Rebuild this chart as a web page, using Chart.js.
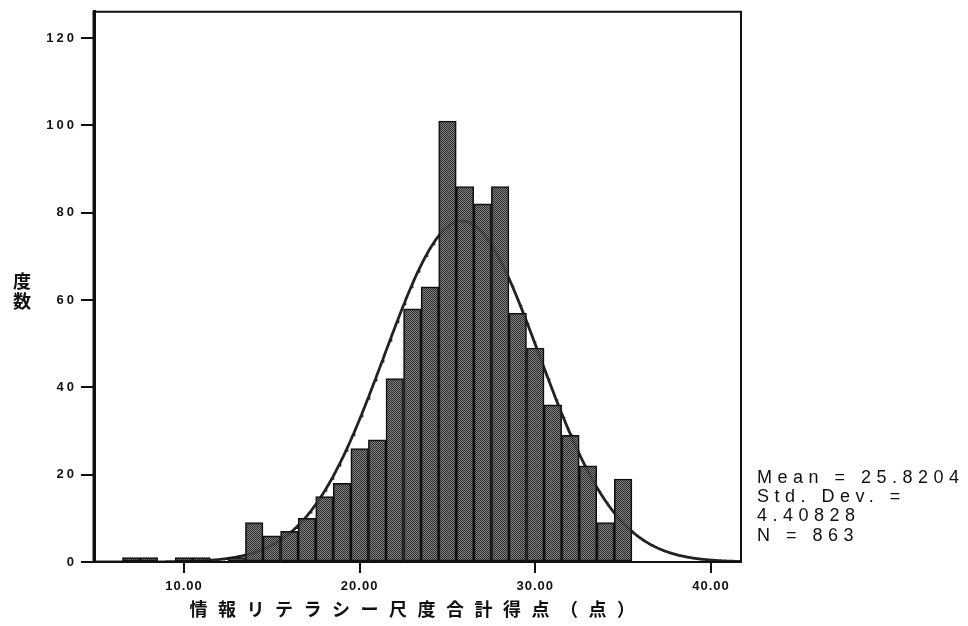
<!DOCTYPE html>
<html>
<head>
<meta charset="utf-8">
<script src="https://cdn.jsdelivr.net/npm/chart.js@4/dist/chart.umd.min.js"></script>
<style>
  html, body { margin: 0; padding: 0; background: #ffffff; }
  canvas { display: block; }
</style>
</head>
<body>
<canvas id="hist" width="968" height="626"></canvas>
<script>
// Score bins (bin width 1 point) and their frequencies
const SCORES = [7, 8, 10, 11, 13, 14, 15, 16, 17, 18, 19, 20, 21, 22, 23, 24, 25, 26, 27, 28, 29, 30, 31, 32, 33, 34, 35];
const COUNTS = [1, 1, 1, 1, 1, 9, 6, 7, 10, 15, 18, 26, 28, 42, 58, 63, 101, 86, 82, 86, 57, 49, 36, 29, 22, 9, 19];

// Axis ticks
const X_TICKS = [10, 20, 30, 40];
const Y_TICKS = [0, 20, 40, 60, 80, 100, 120];

// Summary statistics
const MEAN = 25.8204;
const STD_DEV = 4.40828;
const N = 863;
const STATS_LINES = ['Mean = 25.8204', 'Std. Dev. =', '4.40828', 'N = 863'];

// Labels
const X_TITLE = '情報リテラシー尺度合計得点（点）';
const Y_TITLE = ['度', '数'];

// Axis ranges
const X_MIN = 4.88, X_MAX = 41.71;
const Y_MIN = 0, Y_MAX = 126;

const BIN_WIDTH = 1;

// Fitted normal curve, scaled to counts per bin
const curveX = [];
for (let x = X_MIN; x <= X_MAX + 1e-9; x += 0.05) curveX.push(x);
const curvePoints = curveX.map(x => ({
  x: x,
  y: N * BIN_WIDTH * Math.exp(-0.5 * Math.pow((x - MEAN) / STD_DEV, 2)) / (STD_DEV * Math.sqrt(2 * Math.PI))
}));

// Halftone-like fill for the bars (light dots slightly see-through)
function makeStipple() {
  const c = document.createElement('canvas');
  c.width = 2; c.height = 2;
  const g = c.getContext('2d');
  g.fillStyle = 'rgba(104,104,104,0.82)'; g.fillRect(1, 0, 1, 1); g.fillRect(0, 1, 1, 1);
  g.fillStyle = '#2c2c2c'; g.fillRect(0, 0, 1, 1); g.fillRect(1, 1, 1, 1);
  return g.createPattern(c, 'repeat');
}

const INK = '#111111';
const LATIN = "'Liberation Sans', Arial, sans-serif";
const CJK = "'Noto Sans CJK JP', 'Noto Sans CJK SC', sans-serif";

// Wraps the scales' text drawing to apply letter spacing
const spacedText = {
  id: 'spacedText',
  afterLayout(chart) {
    const spec = { x: ['1px', '10.5px'], y: ['3px', '0px'] };
    for (const id of Object.keys(spec)) {
      const s = chart.scales[id];
      if (!s || s._spaced) continue;
      const [labelSp, titleSp] = spec[id];
      const origLabels = s.drawLabels.bind(s);
      const origTitle = s.drawTitle.bind(s);
      s.drawLabels = (area) => {
        const c = s.ctx; const prev = c.letterSpacing;
        c.letterSpacing = labelSp; origLabels(area); c.letterSpacing = prev;
      };
      s.drawTitle = (area) => {
        const c = s.ctx; const prev = c.letterSpacing;
        c.letterSpacing = titleSp; origTitle(area); c.letterSpacing = prev;
      };
      s._spaced = true;
    }
  }
};

// Plot frame, stacked y title and the statistics block
const decorations = {
  id: 'decorations',
  afterDatasetsDraw(chart) {
    const { ctx, chartArea: a } = chart;
    ctx.save();
    ctx.strokeStyle = INK;
    ctx.lineWidth = 2;
    ctx.beginPath();
    ctx.moveTo(a.left, a.top); ctx.lineTo(a.right, a.top); ctx.lineTo(a.right, a.bottom);
    ctx.stroke();
    ctx.beginPath();
    ctx.moveTo(a.left, a.bottom); ctx.lineTo(a.right, a.bottom);
    ctx.stroke();
    ctx.lineWidth = 3;
    ctx.beginPath();
    ctx.moveTo(a.left, a.top - 1); ctx.lineTo(a.left, a.bottom + 1);
    ctx.stroke();
    ctx.restore();
  },
  afterDraw(chart) {
    const { ctx, chartArea: a } = chart;
    ctx.save();
    ctx.fillStyle = INK;
    ctx.textAlign = 'center';
    ctx.textBaseline = 'middle';
    ctx.font = "bold 18px " + CJK;
    Y_TITLE.forEach((ch, i) => ctx.fillText(ch, 22, 281 + i * 20));

    ctx.textAlign = 'left';
    ctx.font = "18px " + LATIN;
    ctx.letterSpacing = '5.5px';
    STATS_LINES.forEach((line, i) => ctx.fillText(line, a.right + 16, 478 + i * 19.2));
    ctx.restore();
  }
};

new Chart(document.getElementById('hist'), {
  data: {
    datasets: [
      {
        type: 'bar',
        data: SCORES.map((s, i) => ({ x: s, y: COUNTS[i] })),
        backgroundColor: makeStipple(),
        borderColor: INK,
        borderWidth: 1.5,
        borderSkipped: false,
        barPercentage: 1,
        categoryPercentage: 1,
        grouped: false,
        order: 0
      },
      {
        type: 'line',
        data: curvePoints,
        borderColor: '#222222',
        borderWidth: 2.8,
        pointRadius: 0,
        tension: 0,
        order: 1
      }
    ]
  },
  options: {
    responsive: false,
    animation: false,
    devicePixelRatio: 1,
    layout: { padding: { top: 11, right: 227, left: 0, bottom: 0 } },
    plugins: {
      legend: { display: false },
      tooltip: { enabled: false }
    },
    scales: {
      x: {
        type: 'linear',
        position: 'bottom',
        offset: false,
        min: X_MIN,
        max: X_MAX,
        afterBuildTicks: s => { s.ticks = X_TICKS.map(v => ({ value: v })); },
        afterFit: s => { s.height = 64; },
        grid: { offset: false, drawOnChartArea: false, drawTicks: true, tickLength: 11, color: INK, lineWidth: 2 },
        border: { display: true, color: INK, width: 2 },
        ticks: {
          callback: v => Number(v).toFixed(2),
          color: INK,
          padding: 6,
          maxRotation: 0,
          autoSkip: false,
          font: { family: LATIN, size: 13, weight: 'bold' }
        },
        title: {
          display: true,
          text: X_TITLE,
          color: INK,
          padding: { top: 0, bottom: 6 },
          font: { family: CJK, size: 18, weight: 'bold' }
        }
      },
      y: {
        type: 'linear',
        min: Y_MIN,
        max: Y_MAX,
        afterBuildTicks: s => { s.ticks = Y_TICKS.map(v => ({ value: v })); },
        afterFit: s => { s.width = 94; },
        grid: { drawOnChartArea: false, drawTicks: true, tickLength: 13, color: INK, lineWidth: 2 },
        border: { display: true, color: INK, width: 3 },
        ticks: {
          color: INK,
          padding: 4,
          font: { family: LATIN, size: 13, weight: 'bold' }
        }
      }
    }
  },
  plugins: [spacedText, decorations]
});
</script>
</body>
</html>
